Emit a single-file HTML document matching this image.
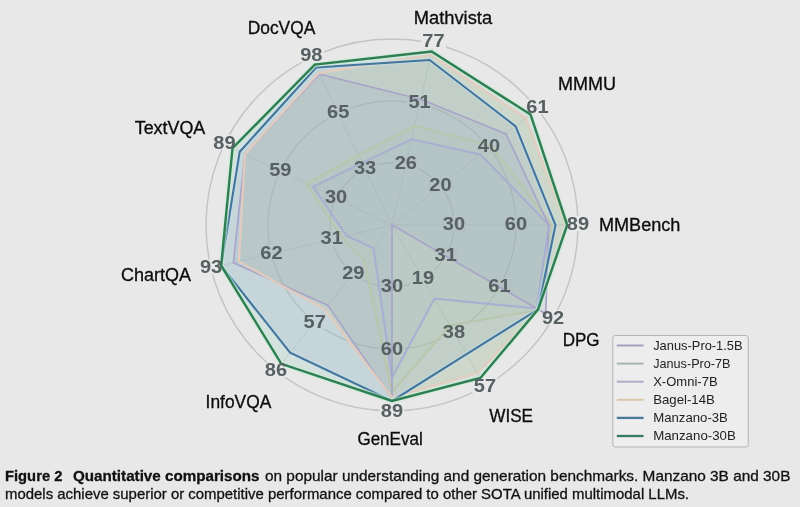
<!DOCTYPE html><html><head><meta charset="utf-8"><style>html,body{margin:0;padding:0;background:#e8e8e8;}body{width:800px;height:507px;overflow:hidden;}svg{display:block;}.ch{filter:blur(0.45px);}.tx{will-change:transform;}</style></head><body>
<svg width="800" height="507" viewBox="0 0 800 507" font-family="Liberation Sans, sans-serif">
<rect width="800" height="507" fill="#e8e8e8"/>
<g class="ch">
<circle cx="392.0" cy="225.0" r="62.00" fill="none" stroke="#c3c3c3" stroke-width="1.4"/>
<circle cx="392.0" cy="225.0" r="124.00" fill="none" stroke="#c3c3c3" stroke-width="1.4"/>
<circle cx="392.0" cy="225.0" r="186.00" fill="none" stroke="#c3c3c3" stroke-width="1.4"/>
<line x1="392.0" y1="225.0" x2="433.39" y2="43.66" stroke="#cbcbcb" stroke-width="1.0"/>
<line x1="392.0" y1="225.0" x2="537.42" y2="109.03" stroke="#cbcbcb" stroke-width="1.0"/>
<line x1="392.0" y1="225.0" x2="578.00" y2="225.00" stroke="#cbcbcb" stroke-width="1.0"/>
<line x1="392.0" y1="225.0" x2="553.08" y2="318.00" stroke="#cbcbcb" stroke-width="1.0"/>
<line x1="392.0" y1="225.0" x2="485.00" y2="386.08" stroke="#cbcbcb" stroke-width="1.0"/>
<line x1="392.0" y1="225.0" x2="392.00" y2="411.00" stroke="#cbcbcb" stroke-width="1.0"/>
<line x1="392.0" y1="225.0" x2="276.03" y2="370.42" stroke="#cbcbcb" stroke-width="1.0"/>
<line x1="392.0" y1="225.0" x2="211.06" y2="268.11" stroke="#cbcbcb" stroke-width="1.0"/>
<line x1="392.0" y1="225.0" x2="224.42" y2="144.30" stroke="#cbcbcb" stroke-width="1.0"/>
<line x1="392.0" y1="225.0" x2="311.30" y2="57.42" stroke="#cbcbcb" stroke-width="1.0"/>
<rect x="393.3" y="155.3" width="25" height="15" fill="#e8e8e8"/>
<rect x="407.1" y="94.4" width="25" height="15" fill="#e8e8e8"/>
<rect x="420.9" y="33.6" width="25" height="15" fill="#e8e8e8"/>
<rect x="428.0" y="177.2" width="25" height="15" fill="#e8e8e8"/>
<rect x="476.4" y="138.3" width="25" height="15" fill="#e8e8e8"/>
<rect x="524.9" y="99.4" width="25" height="15" fill="#e8e8e8"/>
<rect x="441.5" y="216.1" width="25" height="15" fill="#e8e8e8"/>
<rect x="503.5" y="216.1" width="25" height="15" fill="#e8e8e8"/>
<rect x="565.5" y="216.1" width="25" height="15" fill="#e8e8e8"/>
<rect x="433.2" y="247.3" width="25" height="15" fill="#e8e8e8"/>
<rect x="486.9" y="278.5" width="25" height="15" fill="#e8e8e8"/>
<rect x="540.6" y="309.7" width="25" height="15" fill="#e8e8e8"/>
<rect x="410.5" y="270.1" width="25" height="15" fill="#e8e8e8"/>
<rect x="441.5" y="324.2" width="25" height="15" fill="#e8e8e8"/>
<rect x="472.5" y="378.2" width="25" height="15" fill="#e8e8e8"/>
<rect x="379.5" y="278.5" width="25" height="15" fill="#e8e8e8"/>
<rect x="379.5" y="340.9" width="25" height="15" fill="#e8e8e8"/>
<rect x="379.5" y="403.3" width="25" height="15" fill="#e8e8e8"/>
<rect x="340.8" y="264.9" width="25" height="15" fill="#e8e8e8"/>
<rect x="302.2" y="313.7" width="25" height="15" fill="#e8e8e8"/>
<rect x="263.5" y="362.5" width="25" height="15" fill="#e8e8e8"/>
<rect x="319.2" y="230.6" width="25" height="15" fill="#e8e8e8"/>
<rect x="258.9" y="245.0" width="25" height="15" fill="#e8e8e8"/>
<rect x="198.6" y="259.5" width="25" height="15" fill="#e8e8e8"/>
<rect x="323.6" y="189.0" width="25" height="15" fill="#e8e8e8"/>
<rect x="267.8" y="161.9" width="25" height="15" fill="#e8e8e8"/>
<rect x="211.9" y="134.9" width="25" height="15" fill="#e8e8e8"/>
<rect x="352.6" y="159.9" width="25" height="15" fill="#e8e8e8"/>
<rect x="325.7" y="103.7" width="25" height="15" fill="#e8e8e8"/>
<rect x="298.8" y="47.4" width="25" height="15" fill="#e8e8e8"/>
<polygon points="431.61,51.46 530.54,114.52 567.20,225.00 538.10,309.35 480.35,378.03 392.00,401.00 281.33,363.78 221.18,265.69 232.53,148.20 314.77,64.63" fill="rgb(150,205,185)" fill-opacity="0.23" stroke="none"/>
<polygon points="429.65,60.04 515.69,126.36 555.50,225.00 538.10,309.35 466.60,354.21 392.00,401.00 290.12,352.75 221.18,265.69 239.74,151.67 316.11,67.42" fill="rgb(140,175,205)" fill-opacity="0.22" stroke="none"/>
<polygon points="430.81,54.97 525.85,118.26 566.00,225.00 538.10,309.35 477.55,373.18 392.00,397.50 324.66,309.44 238.89,261.48 244.96,154.19 318.85,73.10" fill="rgb(176,186,140)" fill-opacity="0.22" stroke="none"/>
<polygon points="420.70,99.23 506.07,134.03 548.70,225.00 545.72,313.75 392.00,225.00 392.00,398.50 327.91,305.37 233.44,262.77 244.96,154.19 319.41,74.27" fill="rgb(136,152,196)" fill-opacity="0.14" stroke="none"/>
<polygon points="414.65,125.75 491.29,145.82 552.00,225.00 538.79,309.75 450.00,325.46 392.00,392.20 364.07,260.03 341.42,237.05 306.41,183.78 358.42,155.26" fill="rgb(172,198,150)" fill-opacity="0.10" stroke="none"/>
<polygon points="411.56,139.30 480.35,154.55 549.00,225.00 536.63,308.50 434.50,298.61 392.00,377.60 373.54,248.14 346.67,235.80 313.07,186.99 362.11,162.92" fill="rgb(155,170,215)" fill-opacity="0.10" stroke="none"/>
<polygon points="411.56,139.30 480.35,154.55 549.00,225.00 536.63,308.50 434.50,298.61 392.00,377.60 373.54,248.14 346.67,235.80 313.07,186.99 362.11,162.92" fill="none" stroke="#a8b0d2" stroke-width="2.1" stroke-linejoin="miter"/>
<polygon points="414.65,125.75 491.29,145.82 552.00,225.00 538.79,309.75 450.00,325.46 392.00,392.20 364.07,260.03 341.42,237.05 306.41,183.78 358.42,155.26" fill="none" stroke="#b9c6ae" stroke-width="2.1" stroke-linejoin="miter"/>
<polygon points="420.70,99.23 506.07,134.03 548.70,225.00 545.72,313.75 392.00,225.00 392.00,398.50 327.91,305.37 233.44,262.77 244.96,154.19 319.41,74.27" fill="none" stroke="#a9a5c8" stroke-width="1.7" stroke-linejoin="miter"/>
<polygon points="430.81,54.97 525.85,118.26 566.00,225.00 538.10,309.35 477.55,373.18 392.00,397.50 324.66,309.44 238.89,261.48 244.96,154.19 318.85,73.10" fill="none" stroke="#e3cbbd" stroke-width="2.1" stroke-linejoin="miter"/>
<polygon points="429.65,60.04 515.69,126.36 555.50,225.00 538.10,309.35 466.60,354.21 392.00,401.00 290.12,352.75 221.18,265.69 239.74,151.67 316.11,67.42" fill="none" stroke="#c4e2f2" stroke-width="4.6" stroke-opacity="0.45" stroke-linejoin="miter"/>
<polygon points="429.65,60.04 515.69,126.36 555.50,225.00 538.10,309.35 466.60,354.21 392.00,401.00 290.12,352.75 221.18,265.69 239.74,151.67 316.11,67.42" fill="none" stroke="#44759a" stroke-width="2.1" stroke-linejoin="miter"/>
<polygon points="431.61,51.46 530.54,114.52 567.20,225.00 538.10,309.35 480.35,378.03 392.00,401.00 281.33,363.78 221.18,265.69 232.53,148.20 314.77,64.63" fill="none" stroke="#c4ecd4" stroke-width="5.2" stroke-opacity="0.55" stroke-linejoin="miter"/>
<polygon points="431.61,51.46 530.54,114.52 567.20,225.00 538.10,309.35 480.35,378.03 392.00,401.00 281.33,363.78 221.18,265.69 232.53,148.20 314.77,64.63" fill="none" stroke="#2f7d52" stroke-width="2.4" stroke-linejoin="miter"/>
</g><g class="tx">
<text x="405.8" y="169.1" text-anchor="middle" font-weight="bold" font-size="17.5" fill="#576062" textLength="22.3" lengthAdjust="spacingAndGlyphs">26</text>
<text x="419.6" y="108.2" text-anchor="middle" font-weight="bold" font-size="17.5" fill="#576062" textLength="22.3" lengthAdjust="spacingAndGlyphs">51</text>
<text x="433.4" y="47.4" text-anchor="middle" font-weight="bold" font-size="17.5" fill="#576062" textLength="22.3" lengthAdjust="spacingAndGlyphs">77</text>
<text x="440.5" y="191.0" text-anchor="middle" font-weight="bold" font-size="17.5" fill="#576062" textLength="22.3" lengthAdjust="spacingAndGlyphs">20</text>
<text x="488.9" y="152.1" text-anchor="middle" font-weight="bold" font-size="17.5" fill="#576062" textLength="22.3" lengthAdjust="spacingAndGlyphs">40</text>
<text x="537.4" y="113.2" text-anchor="middle" font-weight="bold" font-size="17.5" fill="#576062" textLength="22.3" lengthAdjust="spacingAndGlyphs">61</text>
<text x="454.0" y="229.9" text-anchor="middle" font-weight="bold" font-size="17.5" fill="#576062" textLength="22.3" lengthAdjust="spacingAndGlyphs">30</text>
<text x="516.0" y="229.9" text-anchor="middle" font-weight="bold" font-size="17.5" fill="#576062" textLength="22.3" lengthAdjust="spacingAndGlyphs">60</text>
<text x="578.0" y="229.9" text-anchor="middle" font-weight="bold" font-size="17.5" fill="#576062" textLength="22.3" lengthAdjust="spacingAndGlyphs">89</text>
<text x="445.7" y="261.1" text-anchor="middle" font-weight="bold" font-size="17.5" fill="#576062" textLength="22.3" lengthAdjust="spacingAndGlyphs">31</text>
<text x="499.4" y="292.3" text-anchor="middle" font-weight="bold" font-size="17.5" fill="#576062" textLength="22.3" lengthAdjust="spacingAndGlyphs">61</text>
<text x="553.1" y="323.5" text-anchor="middle" font-weight="bold" font-size="17.5" fill="#576062" textLength="22.3" lengthAdjust="spacingAndGlyphs">92</text>
<text x="423.0" y="283.9" text-anchor="middle" font-weight="bold" font-size="17.5" fill="#576062" textLength="22.3" lengthAdjust="spacingAndGlyphs">19</text>
<text x="454.0" y="338.0" text-anchor="middle" font-weight="bold" font-size="17.5" fill="#576062" textLength="22.3" lengthAdjust="spacingAndGlyphs">38</text>
<text x="485.0" y="392.0" text-anchor="middle" font-weight="bold" font-size="17.5" fill="#576062" textLength="22.3" lengthAdjust="spacingAndGlyphs">57</text>
<text x="392.0" y="292.3" text-anchor="middle" font-weight="bold" font-size="17.5" fill="#576062" textLength="22.3" lengthAdjust="spacingAndGlyphs">30</text>
<text x="392.0" y="354.7" text-anchor="middle" font-weight="bold" font-size="17.5" fill="#576062" textLength="22.3" lengthAdjust="spacingAndGlyphs">60</text>
<text x="392.0" y="417.1" text-anchor="middle" font-weight="bold" font-size="17.5" fill="#576062" textLength="22.3" lengthAdjust="spacingAndGlyphs">89</text>
<text x="353.3" y="278.7" text-anchor="middle" font-weight="bold" font-size="17.5" fill="#576062" textLength="22.3" lengthAdjust="spacingAndGlyphs">29</text>
<text x="314.7" y="327.5" text-anchor="middle" font-weight="bold" font-size="17.5" fill="#576062" textLength="22.3" lengthAdjust="spacingAndGlyphs">57</text>
<text x="276.0" y="376.3" text-anchor="middle" font-weight="bold" font-size="17.5" fill="#576062" textLength="22.3" lengthAdjust="spacingAndGlyphs">86</text>
<text x="331.7" y="244.4" text-anchor="middle" font-weight="bold" font-size="17.5" fill="#576062" textLength="22.3" lengthAdjust="spacingAndGlyphs">31</text>
<text x="271.4" y="258.8" text-anchor="middle" font-weight="bold" font-size="17.5" fill="#576062" textLength="22.3" lengthAdjust="spacingAndGlyphs">62</text>
<text x="211.1" y="273.3" text-anchor="middle" font-weight="bold" font-size="17.5" fill="#576062" textLength="22.3" lengthAdjust="spacingAndGlyphs">93</text>
<text x="336.1" y="202.8" text-anchor="middle" font-weight="bold" font-size="17.5" fill="#576062" textLength="22.3" lengthAdjust="spacingAndGlyphs">30</text>
<text x="280.3" y="175.7" text-anchor="middle" font-weight="bold" font-size="17.5" fill="#576062" textLength="22.3" lengthAdjust="spacingAndGlyphs">59</text>
<text x="224.4" y="148.7" text-anchor="middle" font-weight="bold" font-size="17.5" fill="#576062" textLength="22.3" lengthAdjust="spacingAndGlyphs">89</text>
<text x="365.1" y="173.7" text-anchor="middle" font-weight="bold" font-size="17.5" fill="#576062" textLength="22.3" lengthAdjust="spacingAndGlyphs">33</text>
<text x="338.2" y="117.5" text-anchor="middle" font-weight="bold" font-size="17.5" fill="#576062" textLength="22.3" lengthAdjust="spacingAndGlyphs">65</text>
<text x="311.3" y="61.2" text-anchor="middle" font-weight="bold" font-size="17.5" fill="#576062" textLength="22.3" lengthAdjust="spacingAndGlyphs">98</text>
<text x="413.7" y="23.5" font-size="17.5" fill="#0c0c0c" stroke="#0c0c0c" stroke-width="0.3" textLength="78.4" lengthAdjust="spacingAndGlyphs">Mathvista</text>
<text x="557.9" y="90.4" font-size="17.5" fill="#0c0c0c" stroke="#0c0c0c" stroke-width="0.3" textLength="58.0" lengthAdjust="spacingAndGlyphs">MMMU</text>
<text x="598.9" y="230.8" font-size="17.5" fill="#0c0c0c" stroke="#0c0c0c" stroke-width="0.3" textLength="81.5" lengthAdjust="spacingAndGlyphs">MMBench</text>
<text x="562.7" y="345.6" font-size="17.5" fill="#0c0c0c" stroke="#0c0c0c" stroke-width="0.3" textLength="36.9" lengthAdjust="spacingAndGlyphs">DPG</text>
<text x="489.2" y="421.8" font-size="17.5" fill="#0c0c0c" stroke="#0c0c0c" stroke-width="0.3" textLength="43.9" lengthAdjust="spacingAndGlyphs">WISE</text>
<text x="357.4" y="445.0" font-size="17.5" fill="#0c0c0c" stroke="#0c0c0c" stroke-width="0.3" textLength="65.3" lengthAdjust="spacingAndGlyphs">GenEval</text>
<text x="205.6" y="408.1" font-size="17.5" fill="#0c0c0c" stroke="#0c0c0c" stroke-width="0.3" textLength="65.7" lengthAdjust="spacingAndGlyphs">InfoVQA</text>
<text x="121.0" y="280.6" font-size="17.5" fill="#0c0c0c" stroke="#0c0c0c" stroke-width="0.3" textLength="70.0" lengthAdjust="spacingAndGlyphs">ChartQA</text>
<text x="134.7" y="133.6" font-size="17.5" fill="#0c0c0c" stroke="#0c0c0c" stroke-width="0.3" textLength="70.6" lengthAdjust="spacingAndGlyphs">TextVQA</text>
<text x="247.7" y="34.3" font-size="17.5" fill="#0c0c0c" stroke="#0c0c0c" stroke-width="0.3" textLength="67.6" lengthAdjust="spacingAndGlyphs">DocVQA</text>
<rect x="612.8" y="335.5" width="135.5" height="111.5" rx="2.5" ry="2.5" fill="#ededed" stroke="#b4b4b4" stroke-width="1"/>
<line x1="616.8" y1="345.5" x2="643.6" y2="345.5" stroke="#a3a1c2" stroke-width="2.0"/>
<text x="653.2" y="349.7" font-size="12.2" fill="#222" textLength="89.4" lengthAdjust="spacingAndGlyphs">Janus-Pro-1.5B</text>
<line x1="616.8" y1="363.6" x2="643.6" y2="363.6" stroke="#a9b3b1" stroke-width="2.0"/>
<text x="653.2" y="367.7" font-size="12.2" fill="#222" textLength="77.3" lengthAdjust="spacingAndGlyphs">Janus-Pro-7B</text>
<line x1="616.8" y1="381.7" x2="643.6" y2="381.7" stroke="#abadc4" stroke-width="2.0"/>
<text x="653.2" y="385.7" font-size="12.2" fill="#222" textLength="64.4" lengthAdjust="spacingAndGlyphs">X-Omni-7B</text>
<line x1="616.8" y1="399.8" x2="643.6" y2="399.8" stroke="#dcc6a8" stroke-width="2.0"/>
<text x="653.2" y="403.7" font-size="12.2" fill="#222" textLength="61.6" lengthAdjust="spacingAndGlyphs">Bagel-14B</text>
<line x1="616.8" y1="417.9" x2="643.6" y2="417.9" stroke="#4a7898" stroke-width="2.3"/>
<text x="653.2" y="421.7" font-size="12.2" fill="#222" textLength="74.7" lengthAdjust="spacingAndGlyphs">Manzano-3B</text>
<line x1="616.8" y1="436.0" x2="643.6" y2="436.0" stroke="#367c62" stroke-width="2.3"/>
<text x="653.2" y="439.7" font-size="12.2" fill="#222" textLength="82.6" lengthAdjust="spacingAndGlyphs">Manzano-30B</text>
<text x="5" y="481" font-size="15" fill="#111" stroke="#111" stroke-width="0.3"><tspan font-weight="bold" textLength="57.4" lengthAdjust="spacingAndGlyphs">Figure 2</tspan></text>
<text x="73" y="481" font-size="15" font-weight="bold" fill="#111" stroke="#111" stroke-width="0.3" textLength="186.5" lengthAdjust="spacingAndGlyphs">Quantitative comparisons</text>
<text x="265" y="481" font-size="15" fill="#111" stroke="#111" stroke-width="0.3" textLength="525.4" lengthAdjust="spacingAndGlyphs">on popular understanding and generation benchmarks. Manzano 3B and 30B</text>
<text x="5" y="499" font-size="15" fill="#111" stroke="#111" stroke-width="0.3" textLength="684" lengthAdjust="spacingAndGlyphs">models achieve superior or competitive performance compared to other SOTA unified multimodal LLMs.</text>
</g></svg></body></html>
